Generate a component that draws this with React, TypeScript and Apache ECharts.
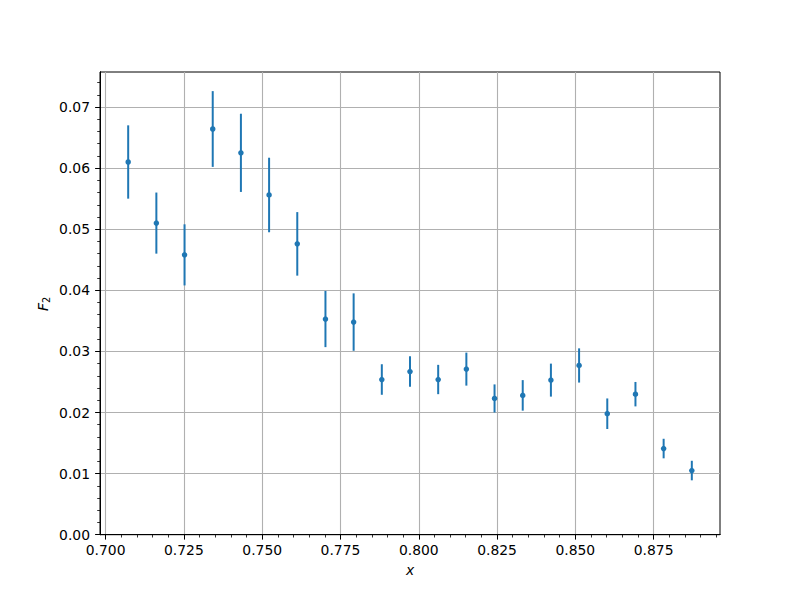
import React, { useEffect, useRef } from "react";
import * as echarts from "echarts";

const xValues = [0.7072, 0.7162, 0.7252, 0.7342, 0.7432, 0.7522, 0.7612, 0.7702, 0.7792, 0.7882, 0.7972, 0.8062, 0.8152, 0.8242, 0.8332, 0.8422, 0.8512, 0.8602, 0.8692, 0.8782, 0.8872];
const yValues = [0.0610, 0.0510, 0.0458, 0.0664, 0.0625, 0.0556, 0.0476, 0.0353, 0.0348, 0.0254, 0.0267, 0.0254, 0.0271, 0.0223, 0.0228, 0.0253, 0.0277, 0.0198, 0.0230, 0.0141, 0.0105];
const yErrors = [0.0060, 0.0050, 0.0050, 0.0062, 0.0064, 0.0061, 0.0052, 0.0046, 0.0047, 0.0025, 0.0025, 0.0024, 0.0027, 0.0023, 0.0025, 0.0027, 0.0028, 0.0025, 0.0020, 0.0016, 0.0016];

const xMajorTicks = [0.700, 0.725, 0.750, 0.775, 0.800, 0.825, 0.850, 0.875];
const xMinorTicks = [0.700, 0.705, 0.710, 0.715, 0.720, 0.725, 0.730, 0.735, 0.740, 0.745, 0.750, 0.755, 0.760, 0.765, 0.770, 0.775, 0.780, 0.785, 0.790, 0.795, 0.800, 0.805, 0.810, 0.815, 0.820, 0.825, 0.830, 0.835, 0.840, 0.845, 0.850, 0.855, 0.860, 0.865, 0.870, 0.875, 0.880, 0.885, 0.890, 0.895];
const yMajorTicks = [0.00, 0.01, 0.02, 0.03, 0.04, 0.05, 0.06, 0.07];
const yMinorTicks = [0.000, 0.002, 0.004, 0.006, 0.008, 0.010, 0.012, 0.014, 0.016, 0.018, 0.020, 0.022, 0.024, 0.026, 0.028, 0.030, 0.032, 0.034, 0.036, 0.038, 0.040, 0.042, 0.044, 0.046, 0.048, 0.050, 0.052, 0.054, 0.056, 0.058, 0.060, 0.062, 0.064, 0.066, 0.068, 0.070, 0.072, 0.074];

const X_MIN = 0.6982;
const X_MAX = 0.8962;
const Y_MIN = 0;
const Y_MAX = 0.07573;

const COLOR = "#1f77b4";
const FONT = "DejaVu Sans";

export default function App() {
  const ref = useRef<HTMLDivElement>(null);
  useEffect(() => {
    if (!ref.current) return;
    const chart = echarts.init(ref.current, null, { renderer: "svg" });
    const points = xValues.map((x, i) => [x, yValues[i]]);
    const bars = xValues.map((x, i) => [x, yValues[i] - yErrors[i], yValues[i] + yErrors[i]]);
    const axisBase = {
      type: "value",
      axisLine: { show: true, lineStyle: { color: "#000", width: 1 } },
    };
    chart.setOption({
      animation: false,
      backgroundColor: "#fff",
      grid: {
        left: 100,
        top: 72,
        width: 620,
        height: 462.7,
        show: true,
        borderColor: "#000",
        borderWidth: 1,
        backgroundColor: "transparent",
      },
      xAxis: [
        {
          ...axisBase,
          min: X_MIN,
          max: X_MAX,
          axisTick: { show: true, inside: false, length: 4.9, lineStyle: { color: "#000", width: 1 }, customValues: xMajorTicks },
          axisLabel: {
            show: true,
            customValues: xMajorTicks,
            margin: 8,
            color: "#000",
            fontFamily: FONT,
            fontSize: 13.9,
            formatter: (v: number) => v.toFixed(3),
          },
          splitLine: { show: true, lineStyle: { color: "#b0b0b0", width: 1.1 } },
        },
        {
          ...axisBase,
          min: X_MIN,
          max: X_MAX,
          position: "bottom",
          axisTick: { show: true, inside: false, length: 2.8, lineStyle: { color: "#000", width: 0.8 }, customValues: xMinorTicks },
          axisLabel: { show: false },
          splitLine: { show: false },
        },
      ],
      yAxis: [
        {
          ...axisBase,
          min: Y_MIN,
          max: Y_MAX,
          axisTick: { show: true, inside: false, length: 4.9, lineStyle: { color: "#000", width: 1 }, customValues: yMajorTicks },
          axisLabel: {
            show: true,
            customValues: yMajorTicks,
            margin: 10,
            color: "#000",
            fontFamily: FONT,
            fontSize: 13.9,
            formatter: (v: number) => v.toFixed(2),
          },
          splitLine: { show: true, lineStyle: { color: "#b0b0b0", width: 1.1 } },
        },
        {
          ...axisBase,
          min: Y_MIN,
          max: Y_MAX,
          position: "left",
          axisTick: { show: true, inside: false, length: 2.8, lineStyle: { color: "#000", width: 0.8 }, customValues: yMinorTicks },
          axisLabel: { show: false },
          splitLine: { show: false },
        },
      ],
      series: [
        {
          type: "custom",
          xAxisIndex: 0,
          yAxisIndex: 0,
          data: bars,
          encode: { x: 0, y: [1, 2] },
          renderItem: (params: any, api: any) => {
            const x = api.value(0);
            const lo = api.coord([x, api.value(1)]);
            const hi = api.coord([x, api.value(2)]);
            return {
              type: "line",
              shape: { x1: lo[0], y1: lo[1], x2: hi[0], y2: hi[1] },
              style: { stroke: COLOR, lineWidth: 2 },
            };
          },
          z: 3,
        },
        {
          type: "scatter",
          xAxisIndex: 0,
          yAxisIndex: 0,
          data: points,
          symbol: "circle",
          symbolSize: 5.5,
          itemStyle: { color: COLOR, opacity: 1 },
          z: 4,
        },
      ],
      graphic: [
        {
          type: "text",
          x: 410,
          y: 570,
          style: {
            text: "x",
            font: `italic 13.9px "${FONT}"`,
            fill: "#000",
            textAlign: "center",
            textVerticalAlign: "middle",
          },
        },
        {
          type: "text",
          x: 43,
          y: 304,
          rotation: Math.PI / 2,
          style: {
            text: "{i|F}{s|2}",
            textAlign: "center",
            textVerticalAlign: "middle",
            rich: {
              i: { fontFamily: FONT, fontStyle: "italic", fontSize: 13.9, fill: "#000", color: "#000" },
              s: { fontFamily: FONT, fontSize: 9.7, fill: "#000", color: "#000", padding: [6, 0, 0, 0] },
            },
          },
        },
      ],
    });
    return () => chart.dispose();
  }, []);
  return <div ref={ref} style={{ width: 800, height: 600, margin: -8 }} />;
}
